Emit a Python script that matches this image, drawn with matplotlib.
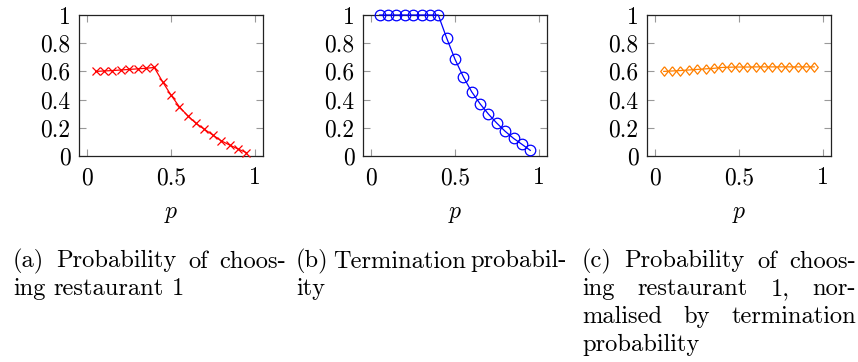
"""Three pgfplots-style panels: restaurant choice vs p."""
import matplotlib
matplotlib.use("Agg")
import matplotlib.pyplot as plt
from matplotlib.ticker import FormatStrFormatter

plt.rcParams["font.family"] = "cmr10"
plt.rcParams["mathtext.fontset"] = "cm"
plt.rcParams["axes.formatter.use_mathtext"] = True

# data
p = [0.05, 0.10, 0.15, 0.20, 0.25, 0.30, 0.35, 0.40, 0.45, 0.50,
     0.55, 0.60, 0.65, 0.70, 0.75, 0.80, 0.85, 0.90, 0.95]
choose_r1 = [0.600, 0.603, 0.606, 0.610, 0.614, 0.618, 0.622, 0.628, 0.526, 0.432,
             0.349, 0.285, 0.231, 0.189, 0.149, 0.108, 0.078, 0.050, 0.024]
terminate = [1.0, 1.0, 1.0, 1.0, 1.0, 1.0, 1.0, 1.0, 0.837, 0.686,
             0.561, 0.455, 0.370, 0.297, 0.233, 0.175, 0.125, 0.083, 0.040]
normalised = [0.600, 0.603, 0.606, 0.610, 0.614, 0.618, 0.622, 0.628, 0.630, 0.631,
              0.631, 0.632, 0.632, 0.632, 0.632, 0.632, 0.632, 0.632, 0.632]

xticks = [0, 0.5, 1]
yticks = [0, 0.2, 0.4, 0.6, 0.8, 1]

captions = [
    ["(a) Probability of choos-", "ing restaurant 1"],
    ["(b) Termination probabil-", "ity"],
    ["(c) Probability of choos-", "ing restaurant 1, nor-",
     "malised by termination", "probability"],
]

W, H = 858, 362
FS = 17
CAP_FS = 17.6
diamond = [(0, 1), (0.8, 0), (0, -1), (-0.8, 0), (0, 1)]

fig = plt.figure(figsize=(W / 100, H / 100), dpi=100)

panels = [
    (79, choose_r1, "#ff0000", "x", 6.0),
    (363, terminate, "#0000ff", "o", 7.6),
    (647, normalised, "#ff8000", diamond, 6.8),
]

for left, ys, col, mk, ms in panels:
    ax = fig.add_axes([left / W, (H - 156) / H, 184 / W, 141 / H])
    ax.plot(p, ys, color=col, lw=0.9, marker=mk, ms=ms, mfc="none",
            mec=col, mew=0.9, clip_on=False, zorder=3)
    ax.set_xlim(-0.05, 1.05)
    ax.set_ylim(0, 1)
    ax.set_xticks(xticks)
    ax.set_yticks(yticks)
    ax.xaxis.set_major_formatter(FormatStrFormatter("%g"))
    ax.yaxis.set_major_formatter(FormatStrFormatter("%g"))
    ax.tick_params(direction="in", top=True, right=True, length=5, width=0.8,
                   color="#999999", labelsize=FS, labelcolor="black")
    ax.tick_params(axis="x", pad=8)
    ax.tick_params(axis="y", pad=6)
    for s in ax.spines.values():
        s.set_linewidth(0.9)
        s.set_color("#222222")
    ax.set_xlabel("$p$", fontsize=FS, labelpad=10)

# justified captions, one column per panel
cols = [(13, 286), (296, 567), (582, 856)]
base0, lead = 267.5, 27.7
renderer = fig.canvas.get_renderer()
space = CAP_FS * 0.333 * 100 / 72

for (x0, x1), lines in zip(cols, captions):
    for i, line in enumerate(lines):
        words = line.split(" ")
        y = 1 - (base0 + i * lead) / H
        texts = [fig.text(0, y, w, fontsize=CAP_FS, va="baseline", ha="left") for w in words]
        widths = [t.get_window_extent(renderer).width for t in texts]
        last = i == len(lines) - 1
        if last or len(words) == 1:
            gap = space
        else:
            gap = (x1 - x0 - sum(widths)) / (len(words) - 1)
        x = x0
        for t, w in zip(texts, widths):
            t.set_x(x / W)
            x += w + gap

fig.savefig("out.png", dpi=100)
